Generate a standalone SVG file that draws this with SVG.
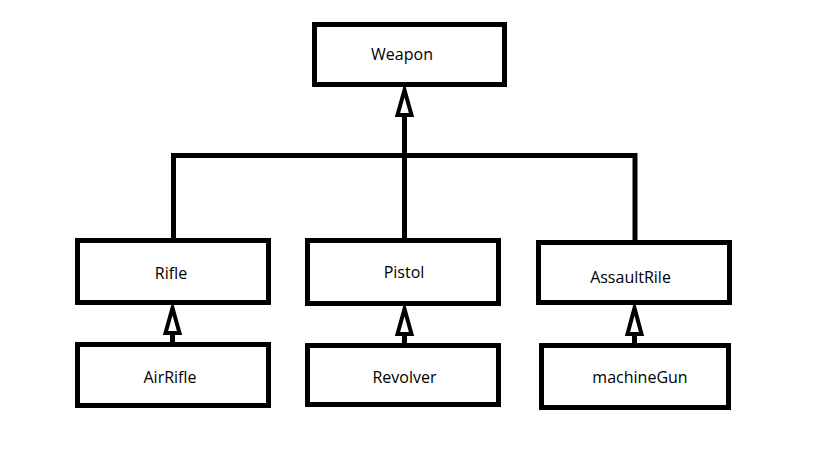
<svg xmlns="http://www.w3.org/2000/svg" width="819" height="460" viewBox="0 0 819 460">
<style>
.box{fill:#fff;stroke:#000;stroke-width:5}
.lbl{font-family:"Open Sans","Noto Sans",sans-serif;font-size:16px;fill:#000;text-anchor:middle}
.ln{fill:none;stroke:#000;stroke-width:5}
.ah{fill:#fff;stroke:#000;stroke-width:4;stroke-linejoin:miter}
</style>
<rect width="819" height="460" fill="#fff"/>
<g id="connectors">
<path class="ln" d="M173.5,240 V155.5 H635 V242"/>
<path class="ln" d="M404.5,240 V116"/>
<polygon class="ah" points="404.5,90 397.5,115 411.5,115"/>
<path class="ln" d="M172.5,344 V334"/>
<polygon class="ah" points="172.5,308 165.5,333 179.5,333"/>
<path class="ln" d="M404.5,345 V335"/>
<polygon class="ah" points="404.5,309 397.5,334 411.5,334"/>
<path class="ln" d="M634.5,345 V335"/>
<polygon class="ah" points="634.5,308 627.5,334 641.5,334"/>
</g>
<g id="weapon"><rect class="box" x="314.5" y="24.5" width="190" height="60"/><text class="lbl" x="402" y="60">Weapon</text></g>
<g id="rifle"><rect class="box" x="77.5" y="240.5" width="191" height="62"/><text class="lbl" x="171" y="279">Rifle</text></g>
<g id="pistol"><rect class="box" x="307.5" y="240.5" width="191" height="63"/><text class="lbl" x="404" y="278">Pistol</text></g>
<g id="assaultrile"><rect class="box" x="538.5" y="242.5" width="191" height="60"/><text class="lbl" x="630.5" y="283">AssaultRile</text></g>
<g id="airrifle"><rect class="box" x="77.5" y="344.5" width="191" height="61"/><text class="lbl" x="170" y="383">AirRifle</text></g>
<g id="revolver"><rect class="box" x="307.5" y="345.5" width="191" height="59"/><text class="lbl" x="404.5" y="383">Revolver</text></g>
<g id="machinegun"><rect class="box" x="541.5" y="345.5" width="187" height="62"/><text class="lbl" x="640" y="383">machineGun</text></g>
</svg>
